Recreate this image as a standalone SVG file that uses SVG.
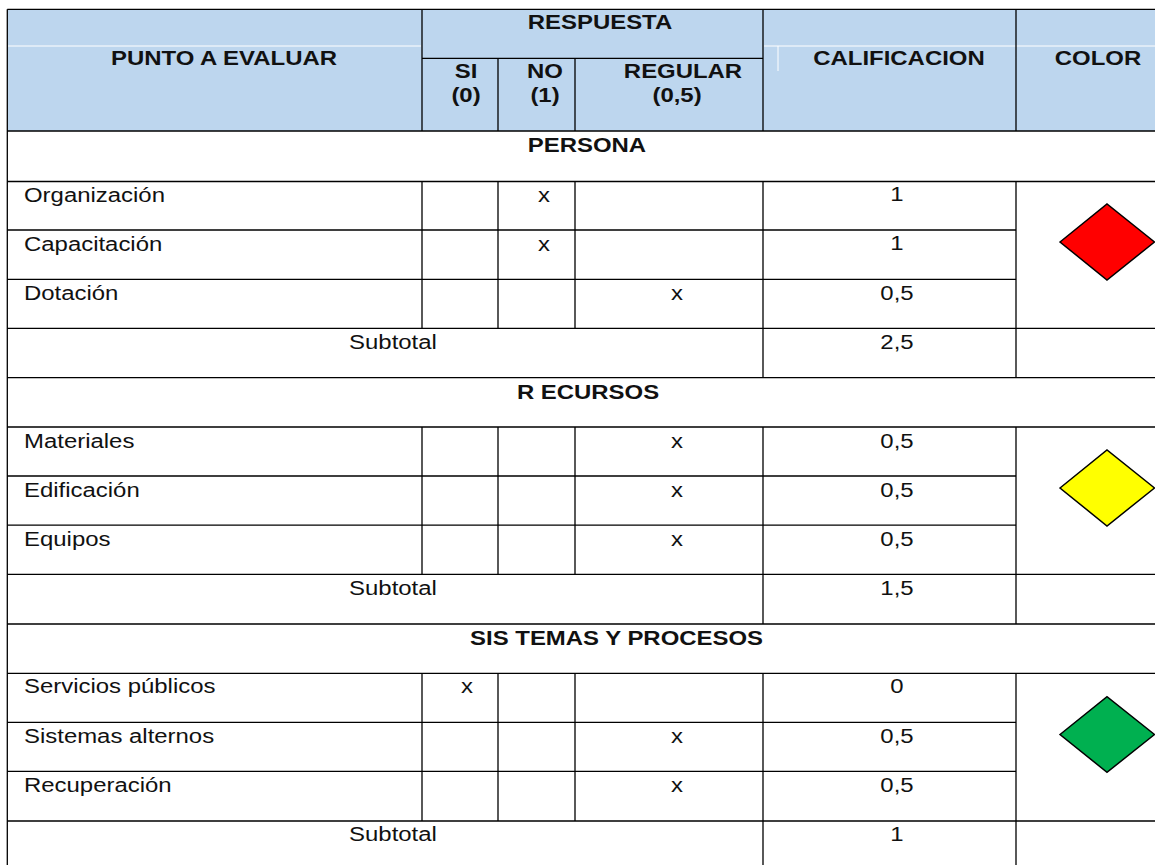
<svg xmlns="http://www.w3.org/2000/svg" width="1155" height="865" viewBox="0 0 1155 865">
<style>
.t{font-family:"Liberation Sans",Arial,sans-serif;font-size:21px;fill:#111}
.b{font-weight:bold}
.m{text-anchor:middle}
.ln{stroke:#000;stroke-width:1.3;fill:none}
.wl{stroke:#fff;stroke-width:1;fill:none}
.dia{stroke:#000;stroke-width:1.5}
</style>
<rect x="0" y="0" width="1155" height="865" fill="#fff"/>
<g id="header">
<rect x="7.3" y="9.3" width="1150" height="121.7" fill="#BDD6EE"/>
<path class="wl" d="M8 46H421M764 46H1155M778 46V71"/>
<text class="t b m" transform="translate(224,65) scale(1.14,1)">PUNTO A EVALUAR</text>
<text class="t b m" transform="translate(600,29) scale(1.14,1)">RESPUESTA</text>
<text class="t b m" transform="translate(466,78) scale(1.14,1)">SI</text>
<text class="t b m" transform="translate(466,101.5) scale(1.14,1)">(0)</text>
<text class="t b m" transform="translate(545,78) scale(1.14,1)">NO</text>
<text class="t b m" transform="translate(545,101.5) scale(1.14,1)">(1)</text>
<text class="t b m" transform="translate(683,78) scale(1.14,1)">REGULAR</text>
<text class="t b m" transform="translate(677,101.5) scale(1.14,1)">(0,5)</text>
<text class="t b m" transform="translate(899,65) scale(1.14,1)">CALIFICACION</text>
<text class="t b m" transform="translate(1098,65) scale(1.14,1)">COLOR</text>
</g>
<g id="connectors">
<path class="ln" d="M7.3 9.3V865M7.3 9.3H1155M7.3 131H1155M422 9.3V131M763 9.3V131M1016 9.3V131M422 58.3H763M498 58.3V131M575 58.3V131"/>
<path class="ln" d="M7.3 181.5H1155M7.3 230H1016M7.3 279.3H1016M7.3 328.3H1155M7.3 377.7H1155M422 181.5V328.3M498 181.5V328.3M575 181.5V328.3M763 181.5V377.7M1016 181.5V377.7"/>
<path class="ln" d="M7.3 427H1155M7.3 476H1016M7.3 525.2H1016M7.3 574.3H1155M7.3 624H1155M422 427V574.3M498 427V574.3M575 427V574.3M763 427V624M1016 427V624"/>
<path class="ln" d="M7.3 673.3H1155M7.3 722.3H1016M7.3 771.3H1016M7.3 821H1155M422 673.3V821M498 673.3V821M575 673.3V821M763 673.3V865M1016 673.3V865"/>
</g>
<g id="persona">
<text class="t b m" transform="translate(587,152) scale(1.14,1)">PERSONA</text>
<text class="t" transform="translate(24,202) scale(1.14,1)">Organización</text>
<text class="t m" transform="translate(544,202) scale(1.14,1)">x</text>
<text class="t m" transform="translate(897,201) scale(1.14,1)">1</text>
<text class="t" transform="translate(24,250.5) scale(1.14,1)">Capacitación</text>
<text class="t m" transform="translate(544,250.5) scale(1.14,1)">x</text>
<text class="t m" transform="translate(897,249.5) scale(1.14,1)">1</text>
<text class="t" transform="translate(24,299.8) scale(1.14,1)">Dotación</text>
<text class="t m" transform="translate(677,299.8) scale(1.14,1)">x</text>
<text class="t m" transform="translate(897,300) scale(1.14,1)">0,5</text>
<text class="t m" transform="translate(393,349.3) scale(1.14,1)">Subtotal</text>
<text class="t m" transform="translate(897,349.3) scale(1.14,1)">2,5</text>
<polygon class="dia" fill="#FF0000" points="1060,242 1107,204 1154.5,242 1107,280"/>
</g>
<g id="recursos">
<text class="t b m" transform="translate(588,398.7) scale(1.14,1)">R ECURSOS</text>
<text class="t" transform="translate(24,447.5) scale(1.14,1)">Materiales</text>
<text class="t m" transform="translate(677,447.5) scale(1.14,1)">x</text>
<text class="t m" transform="translate(897,447.5) scale(1.14,1)">0,5</text>
<text class="t" transform="translate(24,496.5) scale(1.14,1)">Edificación</text>
<text class="t m" transform="translate(677,496.5) scale(1.14,1)">x</text>
<text class="t m" transform="translate(897,496.5) scale(1.14,1)">0,5</text>
<text class="t" transform="translate(24,545.7) scale(1.14,1)">Equipos</text>
<text class="t m" transform="translate(677,545.7) scale(1.14,1)">x</text>
<text class="t m" transform="translate(897,545.7) scale(1.14,1)">0,5</text>
<text class="t m" transform="translate(393,595.3) scale(1.14,1)">Subtotal</text>
<text class="t m" transform="translate(897,595.3) scale(1.14,1)">1,5</text>
<polygon class="dia" fill="#FFFF00" points="1060,488 1107,450 1154.5,488 1107,526"/>
</g>
<g id="sistemas">
<text class="t b" style="text-anchor:end" transform="translate(763,645) scale(1.14,1)">SIS TEMAS Y PROCESOS</text>
<text class="t" transform="translate(24,693) scale(1.14,1)">Servicios públicos</text>
<text class="t m" transform="translate(467,693) scale(1.14,1)">x</text>
<text class="t m" transform="translate(897,693) scale(1.14,1)">0</text>
<text class="t" transform="translate(24,742.5) scale(1.14,1)">Sistemas alternos</text>
<text class="t m" transform="translate(677,742.5) scale(1.14,1)">x</text>
<text class="t m" transform="translate(897,742.5) scale(1.14,1)">0,5</text>
<text class="t" transform="translate(24,791.5) scale(1.14,1)">Recuperación</text>
<text class="t m" transform="translate(677,791.5) scale(1.14,1)">x</text>
<text class="t m" transform="translate(897,791.5) scale(1.14,1)">0,5</text>
<text class="t m" transform="translate(393,841) scale(1.14,1)">Subtotal</text>
<text class="t m" transform="translate(897,841) scale(1.14,1)">1</text>
<polygon class="dia" fill="#00B050" points="1060,734.5 1107,696.7 1154.5,734.5 1107,772.3"/>
</g>
</svg>
